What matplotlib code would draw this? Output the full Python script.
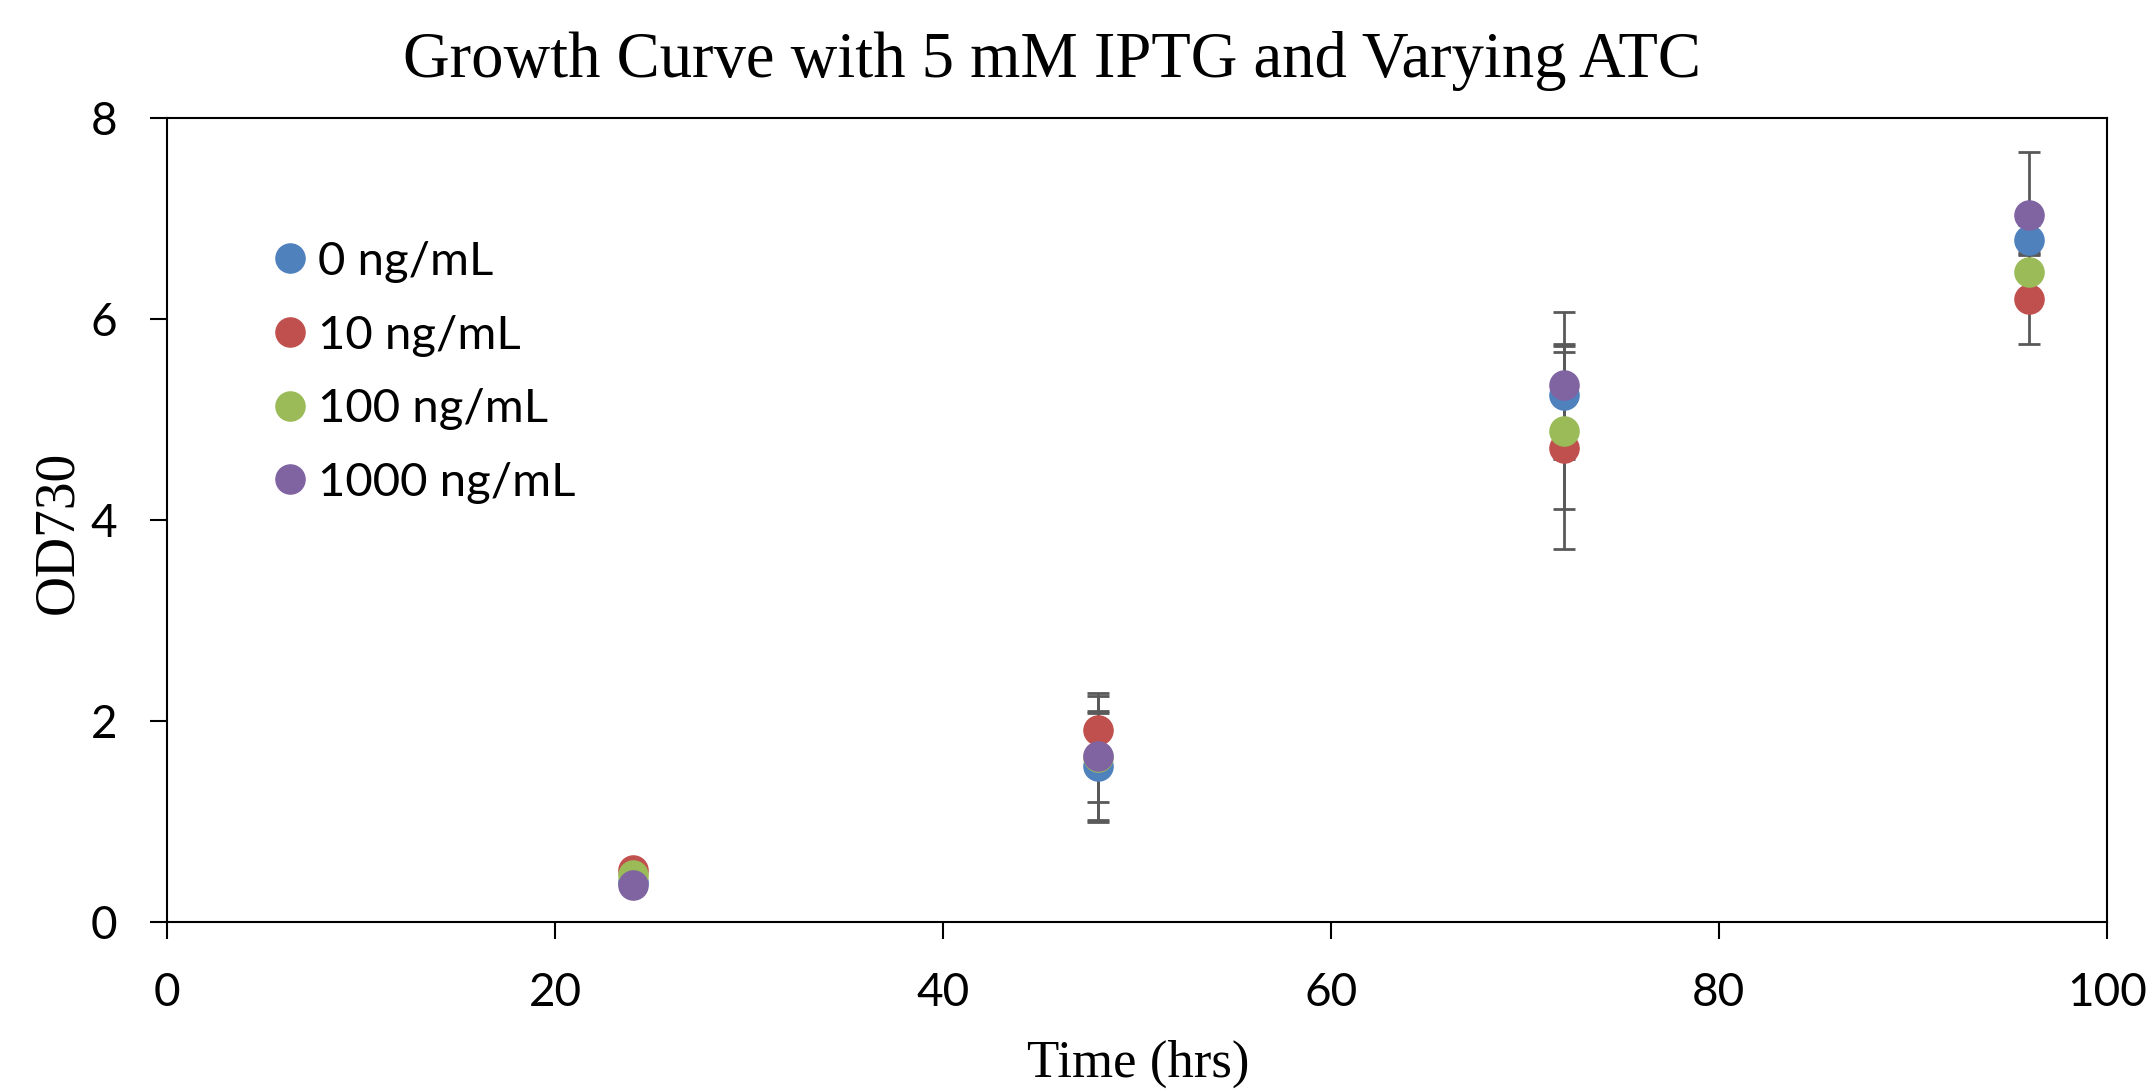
import numpy as np
import matplotlib.pyplot as plt

# data
time_hrs = [24, 48, 72, 96]
labels = ["0 ng/mL", "10 ng/mL", "100 ng/mL", "1000 ng/mL"]
colors = ["#4F81BD", "#C0504D", "#9BBB59", "#8064A2"]

od_0 = [0.40, 1.55, 5.24, 6.79]
od_10 = [0.52, 1.91, 4.72, 6.20]
od_100 = [0.47, 1.64, 4.89, 6.47]
od_1000 = [0.37, 1.65, 5.34, 7.04]

err_0 = [0.05, 0.53, 0.51, 0.15]
err_10 = [0.05, 0.34, 1.01, 0.45]
err_100 = [0.05, 0.64, 0.78, 0.20]
err_1000 = [0.05, 0.45, 0.73, 0.62]

series = [od_0, od_10, od_100, od_1000]
errors = [err_0, err_10, err_100, err_1000]

fig = plt.figure(figsize=(21.52, 10.9), dpi=100)
ax = fig.add_axes([0.0776, 0.154, 0.9014, 0.7377])

# error bars below the markers
for y, e in zip(series, errors):
    ax.errorbar(time_hrs, y, yerr=e, fmt="none", ecolor="#595959",
                elinewidth=2, capsize=8, capthick=2, zorder=2)

for y, c, lab in zip(series, colors, labels):
    ax.plot(time_hrs, y, "o", color=c, markersize=21, label=lab, zorder=3)

ax.set_xlim(0, 100)
ax.set_ylim(0, 8)
ax.set_xticks([0, 20, 40, 60, 80, 100])
ax.set_yticks([0, 2, 4, 6, 8])

for sp in ax.spines.values():
    sp.set_color("black")
    sp.set_linewidth(1.5)

ax.tick_params(direction="out", length=12, width=1.5, labelsize=33)
ax.tick_params(axis="x", pad=24)
ax.tick_params(axis="y", pad=24)
for t in ax.get_xticklabels() + ax.get_yticklabels():
    t.set_family("Lato")

# title and axis labels placed on the figure like the original
fig.text(0.4889, 0.9294, "Growth Curve with 5 mM IPTG and Varying ATC",
         family="Liberation Serif", fontsize=46.5, ha="center", va="baseline")
fig.text(0.5288, 0.012, "Time (hrs)", family="Liberation Serif",
         fontsize=38, ha="center", va="baseline")
fig.text(0.0335, 1 - 532 / 1090, "OD730", family="Liberation Serif",
         fontsize=40, rotation=90, rotation_mode="anchor",
         ha="center", va="baseline")

leg = ax.legend(loc="upper left", bbox_to_anchor=(0.027, 0.90), frameon=False,
                prop={"family": "Lato", "size": 34}, handletextpad=-0.02,
                labelspacing=0.67, handlelength=1.2, markerscale=1.0)

fig.savefig("out.png", dpi=100)
